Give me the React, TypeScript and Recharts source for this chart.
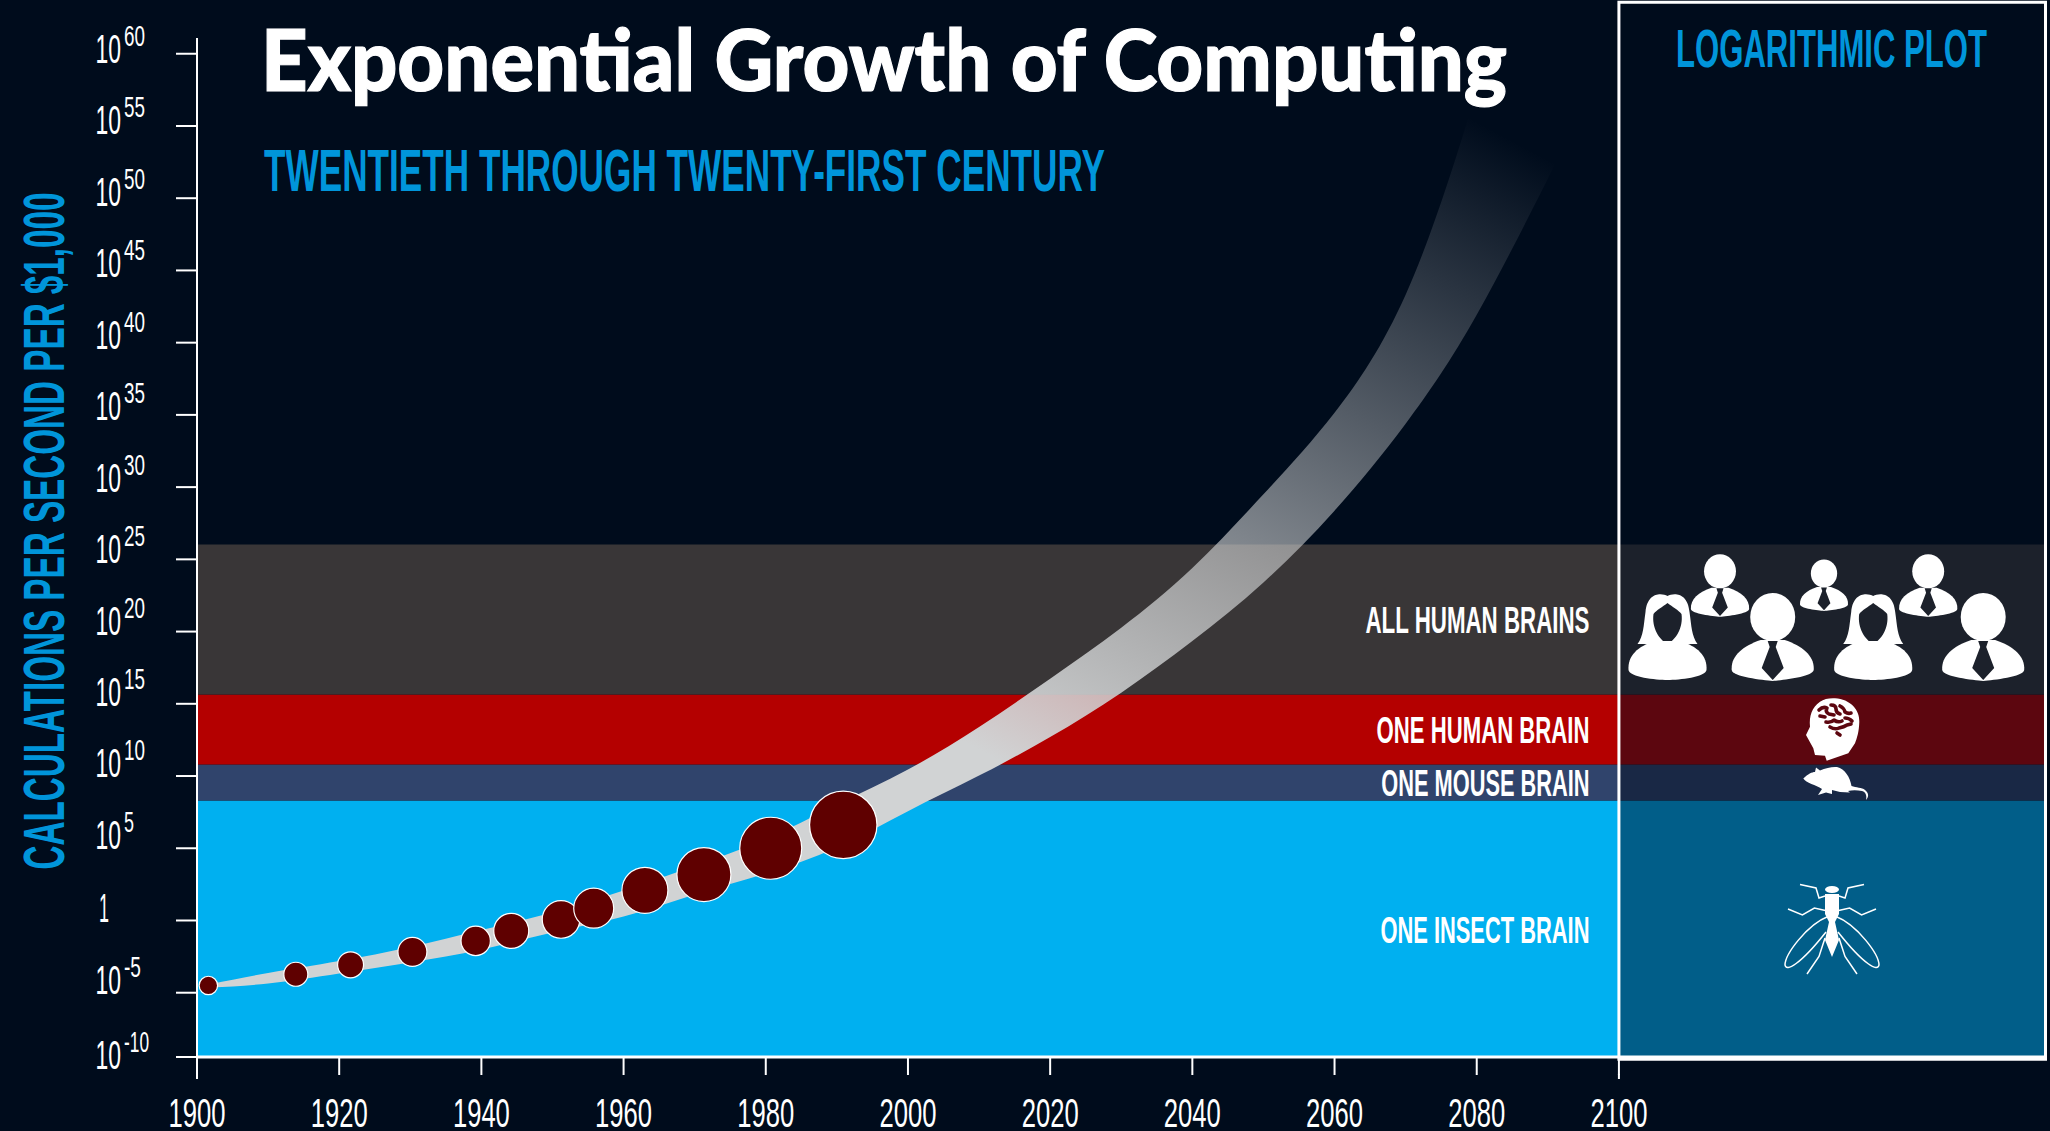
import React from "react"
import {
  ComposedChart,
  Area,
  Scatter,
  XAxis,
  YAxis,
  ZAxis,
  ReferenceArea,
} from "recharts"

// the y values are powers of ten, the lowest tick sits a bit off the regular spacing in the picture
const yTicks = [-9.45, -5, 0, 5, 10, 15, 20, 25, 30, 35, 40, 45, 50, 55, 60]
const yTickLabels = ["-10", "-5", "", "5", "10", "15", "20", "25", "30", "35", "40", "45", "50", "55", "60"]
const xTicks = [1900, 1920, 1940, 1960, 1980, 2000, 2020, 2040, 2060, 2080, 2100]

const bandYears = [1902, 1910, 1920, 1930, 1940, 1950, 1960, 1970, 1980, 1990, 2000, 2010, 2020, 2030, 2040, 2050, 2060, 2070, 2080, 2090, 2092]
const bandHigh = [-4.4, -3.64, -2.81, -1.84, -0.66, 0.55, 2.07, 3.77, 5.64, 8.02, 10.45, 13.39, 16.74, 20.27, 24.4, 29.5, 35.15, 43.32, 57.44, 74.1, 77.6]
const bandLow = [-4.64, -4.36, -3.67, -2.91, -2.01, -0.83, 0.27, 1.8, 3.25, 5.05, 7.57, 10.03, 12.7, 15.77, 19.34, 23.4, 28.37, 34.39, 41.93, 51.35, 53.21]

const bubbleYears = [1901.6, 1913.9, 1921.6, 1930.3, 1939.2, 1944.2, 1951.2, 1955.8, 1963, 1971.3, 1980.7, 1990.9]
const bubblePower = [-4.5, -3.72, -3.07, -2.17, -1.41, -0.72, 0.07, 0.85, 2.09, 3.18, 5.0, 6.62]
const bubbleSize = [85, 144, 169, 210, 216, 306, 353, 400, 529, 729, 961, 1136]

const brainLevels = [
  { name: "ONE INSECT BRAIN", low: -9.45, high: 8.3, fill: "#00b0f0", dark: "#015e89" },
  { name: "ONE MOUSE BRAIN", low: 8.3, high: 10.79, fill: "#30446c", dark: "#192845" },
  { name: "ONE HUMAN BRAIN", low: 10.79, high: 15.64, fill: "#b40000", dark: "#5c060f" },
  { name: "ALL HUMAN BRAINS", low: 15.64, high: 26.02, fill: "#393637", dark: "#1c212b" },
]

const bandRows = bandYears.map((year, i) => ({ year, band: [bandLow[i], bandHigh[i]] }))
const bubbleRows = bubbleYears.map((year, i) => ({ year, power: bubblePower[i], size: bubbleSize[i] }))

const NARROW = '"Liberation Sans Narrow", "Liberation Sans", sans-serif'
const BLUE = "#0095da"

function YTick({ y, payload }: any) {
  const label = yTickLabels[yTicks.indexOf(payload.value)]
  if (payload.value === 0) {
    return <text x={99} y={y + 2} fill="#fff" fontFamily={NARROW} fontSize={41} textLength={10} lengthAdjust="spacingAndGlyphs">1</text>
  }
  const shift = payload.value < -9 ? 12 : Math.max(1, 0.6 + (payload.value - 5) * 0.158)
  const supWidth = label.length === 1 ? 10 : label.length === 3 ? 25 : label[0] === "-" ? 17 : 21
  return (
    <text fill="#fff" fontFamily={NARROW}>
      <tspan x={95.5} y={y + shift} fontSize={41} textLength={25.5} lengthAdjust="spacingAndGlyphs">10</tspan>
      <tspan x={124} y={y + shift - 17} fontSize={29} textLength={supWidth} lengthAdjust="spacingAndGlyphs">{label}</tspan>
    </text>
  )
}

function XTick({ x, payload }: any) {
  const edge = payload.value === 1900 || payload.value === 2100
  return (
    <g>
      {edge && <line x1={x} x2={x} y1={1074} y2={1079} stroke="#fff" strokeWidth={2} />}
      <text x={x} y={1127} textAnchor="middle" fill="#fff" fontFamily={NARROW} fontSize={41} textLength={57} lengthAdjust="spacingAndGlyphs">
        {payload.value}
      </text>
    </g>
  )
}

function Male({ x, y, s, bg }: { x: number; y: number; s: number; bg: string }) {
  return (
    <g transform={`translate(${x},${y}) scale(${s})`}>
      <ellipse cx={0} cy={23} rx={22.5} ry={24} fill="#fff" />
      <path d="M-41 76 C-42 62 -30 52 -12 46 L12 46 C30 52 42 62 41 76 C40 83 10 86 0 87 C-10 86 -40 83 -41 76Z" fill="#fff" />
      <path d="M-5 47 L5 47 L3 53 L11 74 L0 86 L-11 74 L-3 53Z" fill={bg} />
    </g>
  )
}

function Female({ x, y, bg }: { x: number; y: number; bg: string }) {
  return (
    <g transform={`translate(${x},${y})`}>
      <path d="M0 2 C-6 -1 -20 -2 -22 18 C-24 32 -24 42 -30 50 L30 50 C24 42 24 32 22 18 C20 -2 6 -1 0 2Z" fill="#fff" />
      <path d="M0 9 C-5 13 -11 16 -14 20 C-16 34 -8 46 0 50 C8 46 16 34 14 20 C11 16 5 13 0 9Z" fill={bg} />
      <path d="M-39 76 C-40 62 -30 52 -12 47 L12 47 C30 52 40 62 39 76 C38 83 12 86 0 86 C-12 86 -38 83 -39 76Z" fill="#fff" />
    </g>
  )
}

function Icons() {
  const people = brainLevels[3].dark
  const brain = brainLevels[2].dark
  const legs = [
    "M1825 896 L1819 898 L1816 888 L1800 884.4",
    "M1825.4 910.5 L1814.4 908 L1802.4 915 L1788 909",
    "M1825 938 L1819 956.5 L1807 974",
    "M1839 896 L1845 898 L1848 888 L1864 884.4",
    "M1838.6 910.5 L1849.6 908 L1861.6 915 L1876 909",
    "M1839 938 L1845 956.5 L1857 974",
  ]
  return (
    <g>
      <Female x={1667.5} y={594} bg={people} />
      <Female x={1873.2} y={594} bg={people} />
      <Male x={1772.7} y={594} s={1} bg={people} />
      <Male x={1983.2} y={594} s={1} bg={people} />
      <Male x={1720} y={555} s={0.71} bg={people} />
      <Male x={1928.2} y={555} s={0.71} bg={people} />
      <Male x={1824} y={560} s={0.585} bg={people} />

      <path d="M1835 698.3 C1850 699 1860 710 1859.3 722 C1859 732 1857 738 1855 743.3 L1848.3 753.3 L1826.7 760.7 L1825 755.7 L1815 755 L1813.3 748.3 L1806 735 L1810 726.7 C1809 716 1812 707 1820 701.7 C1824 699 1829 698 1835 698.3Z" fill="#fff" />
      <g fill="none" stroke={brain} strokeWidth={3.6} strokeLinecap="round" strokeLinejoin="round">
        <path d="M1819 710 q4 -4 8 -2 q-2 4 2 6 l5 1" />
        <path d="M1820 716 l5 1" />
        <path d="M1831 705 q5 0 5 4 q0 4 4 5" />
        <path d="M1840 706 q4 2 5 6 q3 2 6 1" />
        <path d="M1826 722 q5 1 8 -2 q4 3 8 1" />
        <path d="M1845 718 q4 0 7 3" />
        <path d="M1830 727 q5 3 9 1 q5 -1 8 -3 l4 -1" />
        <path d="M1837 733 l3 2" />
      </g>

      <path d="M1803.3 778.5 C1808 774 1812 772 1815 772 L1816 767.5 L1820 770.5 C1826 768 1832 766.5 1837 767 C1845 769 1850 777 1851.5 786 C1856 788 1862 787 1865 790 C1869 793 1869 797 1866 800 C1867 796 1866 792 1862 791 C1857 790 1852 790 1848 791 L1850 792.5 L1840 792 L1832 790 L1832 794 L1826 792.5 L1818 795 L1822 789 C1816 785 1806 783 1803.3 778.5Z" fill="#fff" />

      <ellipse cx={1832} cy={889.5} rx={7} ry={3.5} fill="#fff" />
      <path d="M1825 894 L1839 894 L1839 914 L1835 922 L1839 940 L1832 957 L1825 940 L1829 922 L1825 914Z" fill="#fff" />
      <g fill="none" stroke="#fff" strokeWidth={1.5}>
        {legs.map((d) => <path key={d} d={d} />)}
        <path d="M1829 916 C1806 925 1785 955 1785 965 C1786 972 1800 965 1826 932" />
        <path d="M1835 916 C1858 925 1879 955 1879 965 C1878 972 1864 965 1838 932" />
      </g>
    </g>
  )
}

function Overlay() {
  const squeeze = { lengthAdjust: "spacingAndGlyphs" as const }
  const labelY: Record<string, number> = {
    "ALL HUMAN BRAINS": 633,
    "ONE HUMAN BRAIN": 743.3,
    "ONE MOUSE BRAIN": 796,
    "ONE INSECT BRAIN": 942.8,
  }
  const labelX: Record<string, number> = {
    "ALL HUMAN BRAINS": 1365.5,
    "ONE HUMAN BRAIN": 1376.6,
    "ONE MOUSE BRAIN": 1381.3,
    "ONE INSECT BRAIN": 1380.4,
  }
  return (
    <svg width={2050} height={1131} style={{ position: "absolute", left: 0, top: 0, pointerEvents: "none" }}>
      <text x={261} y={90.7} fill="#fff" stroke="#fff" strokeWidth={1.2} fontFamily="Lato, sans-serif" fontWeight={900} fontSize={86} textLength={1246} {...squeeze}>
        Exponential Growth of Computing
      </text>
      <text x={264} y={191} fill={BLUE} fontFamily={NARROW} fontWeight={700} fontSize={60} textLength={841} {...squeeze}>
        TWENTIETH THROUGH TWENTY-FIRST CENTURY
      </text>
      <text x={1676} y={66.7} fill={BLUE} fontFamily={NARROW} fontWeight={700} fontSize={54} textLength={311} {...squeeze}>
        LOGARITHMIC PLOT
      </text>
      <text transform="translate(64,869.5) rotate(-90)" fill={BLUE} fontFamily={NARROW} fontWeight={700} fontSize={58} textLength={677} {...squeeze}>
        CALCULATIONS PER SECOND PER $1,000
      </text>
      {brainLevels.map((b) => (
        <text key={b.name} x={labelX[b.name]} y={labelY[b.name]} fill="#fff" fontFamily={NARROW} fontWeight={700} fontSize={37} textLength={1589.5 - labelX[b.name]} {...squeeze}>
          {b.name}
        </text>
      ))}
      <Icons />
    </svg>
  )
}

export default function App() {
  return (
    <div style={{ position: "absolute", left: 0, top: 0, width: 2050, height: 1131, background: "#000c1c", overflow: "hidden" }}>
      <ComposedChart width={2050} height={1131} margin={{ top: 38, right: 4.5, bottom: 0, left: 0 }}>
        <defs>
          <linearGradient id="curveFade" gradientUnits="userSpaceOnUse" x1={1000} y1={761} x2={1372} y2={65}>
            <stop offset="0%" stopColor="#d1d3d4" stopOpacity={1} />
            <stop offset="100%" stopColor="#d1d3d4" stopOpacity={0} />
          </linearGradient>
        </defs>
        <XAxis
          dataKey="year"
          type="number"
          domain={[1900, 2160]}
          allowDataOverflow
          ticks={xTicks}
          height={74}
          tickSize={18}
          axisLine={{ stroke: "#fff", strokeWidth: 3 }}
          tickLine={{ stroke: "#fff", strokeWidth: 2 }}
          tick={<XTick />}
        />
        <YAxis
          type="number"
          domain={[-9.45, 61.09]}
          allowDataOverflow
          ticks={yTicks}
          interval={0}
          width={197}
          tickSize={21}
          axisLine={{ stroke: "#fff", strokeWidth: 2 }}
          tickLine={{ stroke: "#fff", strokeWidth: 2 }}
          tick={<YTick />}
        />
        <ZAxis dataKey="size" type="number" domain={[0, 1200]} range={[0, 1200 * Math.PI]} />
        {brainLevels.map((b) => (
          <ReferenceArea key={b.name} x1={1900} x2={2100} y1={b.low} y2={b.high} fill={b.fill} fillOpacity={1} stroke="none" />
        ))}
        {brainLevels.map((b) => (
          <ReferenceArea key={b.name + "-log"} x1={2100} x2={2160} y1={b.low} y2={b.high} fill={b.dark} fillOpacity={1} stroke="none" />
        ))}
        <ReferenceArea x1={2100} x2={2160} y1={-9.6} y2={63.57} ifOverflow="visible" fill="none" stroke="#fff" strokeWidth={3} />
        <Area
          data={bandRows}
          dataKey="band"
          type="natural"
          stroke="none"
          fill="url(#curveFade)"
          fillOpacity={1}
          isAnimationActive={false}
          dot={false}
          activeDot={false}
        />
        <Scatter data={bubbleRows} dataKey="power" fill="#5f0000" stroke="#fff" strokeWidth={1.2} isAnimationActive={false} />
      </ComposedChart>
      <Overlay />
    </div>
  )
}
